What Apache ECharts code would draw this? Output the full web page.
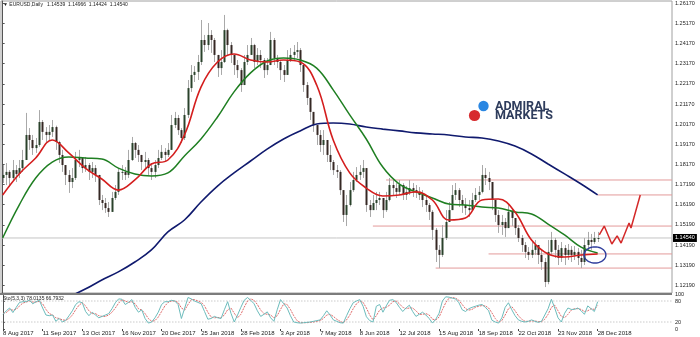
<!DOCTYPE html>
<html><head><meta charset="utf-8">
<script src="https://cdn.jsdelivr.net/npm/echarts@6/dist/echarts.min.js"></script>
<style>html,body{margin:0;padding:0;background:#fff}#c{width:700px;height:337px}</style>
</head><body><div id="c"></div>
<script>
// ---- data (bars = 2 trading days each) ----
const dateTicks = ['8 Aug 2017','11 Sep 2017','13 Oct 2017','16 Nov 2017','20 Dec 2017','25 Jan 2018','28 Feb 2018','3 Apr 2018','7 May 2018','8 Jun 2018','12 Jul 2018','15 Aug 2018','18 Sep 2018','22 Oct 2018','23 Nov 2018','28 Dec 2018'];
const dateTickIndex = [0,12,24,36,48,60,72,84,96,108,120,132,144,156,168,180];
const priceTicks = [1.1219,1.1319,1.1419,1.1519,1.1619,1.1719,1.1817,1.1917,1.2017,1.2117,1.2217,1.2317,1.2417,1.2517,1.2617];
const stochTicks = [0,20,80,100];
const stochLevels = [20,80];
const firstOpen = 1.1751;
const closes = [
1.1766,1.1781,1.1751,1.1790,1.1771,1.1800,1.1840,1.1964,1.1939,1.1899,
1.1914,1.2028,1.1979,1.1964,1.1979,1.2003,1.1929,1.1865,1.1815,1.1766,
1.1731,1.1751,1.1840,1.1850,1.1800,1.1815,1.1781,1.1800,1.1766,1.1642,
1.1627,1.1602,1.1583,1.1652,1.1682,1.1781,1.1781,1.1766,1.1840,1.1924,
1.1890,1.1865,1.1830,1.1840,1.1800,1.1781,1.1815,1.1850,1.1880,1.1865,
1.1890,1.2013,1.2048,1.1988,1.1949,1.2063,1.2196,1.2261,1.2276,1.2325,
1.2434,1.2409,1.2459,1.2434,1.2360,1.2295,1.2325,1.2483,1.2409,1.2360,
1.2310,1.2285,1.2211,1.2325,1.2360,1.2409,1.2325,1.2360,1.2335,1.2285,
1.2310,1.2434,1.2345,1.2325,1.2285,1.2261,1.2335,1.2360,1.2375,1.2384,
1.2310,1.2211,1.2147,1.2078,1.2013,1.1964,1.1914,1.1939,1.1865,1.1830,
1.1790,1.1781,1.1691,1.1568,1.1617,1.1691,1.1741,1.1766,1.1781,1.1800,
1.1617,1.1592,1.1627,1.1642,1.1652,1.1592,1.1642,1.1716,1.1701,1.1682,
1.1716,1.1667,1.1682,1.1701,1.1691,1.1682,1.1667,1.1642,1.1617,1.1583,
1.1494,1.1395,1.1370,1.1454,1.1533,1.1592,1.1667,1.1691,1.1642,1.1617,
1.1602,1.1592,1.1642,1.1667,1.1682,1.1766,1.1751,1.1731,1.1642,1.1568,
1.1518,1.1533,1.1503,1.1583,1.1553,1.1503,1.1454,1.1419,1.1385,1.1370,
1.1395,1.1419,1.1370,1.1335,1.1236,1.1385,1.1444,1.1395,1.1355,1.1404,
1.1370,1.1395,1.1370,1.1385,1.1355,1.1335,1.1419,1.1444,1.1434,1.1454,
1.1454];
const highs = [
1.1815,1.1825,1.1790,1.1840,1.1815,1.1840,1.1890,1.2073,1.1998,1.1964,
1.1949,1.2087,1.2038,1.2003,1.2013,1.2038,1.2010,1.1935,1.1890,1.1815,
1.1790,1.1800,1.1880,1.1890,1.1850,1.1855,1.1825,1.1830,1.1815,1.1766,
1.1667,1.1652,1.1632,1.1682,1.1716,1.1800,1.1815,1.1805,1.1890,1.1954,
1.1929,1.1914,1.1865,1.1880,1.1850,1.1825,1.1840,1.1890,1.1914,1.1899,
1.1924,1.2063,1.2078,1.2063,1.1998,1.2097,1.2236,1.2310,1.2305,1.2360,
1.2533,1.2459,1.2518,1.2483,1.2444,1.2360,1.2384,1.2558,1.2490,1.2424,
1.2360,1.2335,1.2295,1.2360,1.2409,1.2444,1.2415,1.2394,1.2384,1.2345,
1.2345,1.2474,1.2444,1.2360,1.2335,1.2310,1.2384,1.2394,1.2409,1.2424,
1.2394,1.2310,1.2226,1.2150,1.2078,1.2013,1.1988,1.1988,1.1939,1.1914,
1.1840,1.1815,1.1790,1.1691,1.1667,1.1731,1.1781,1.1805,1.1815,1.1840,
1.1800,1.1642,1.1667,1.1682,1.1682,1.1652,1.1682,1.1751,1.1741,1.1726,
1.1741,1.1725,1.1711,1.1741,1.1726,1.1716,1.1706,1.1691,1.1667,1.1627,
1.1592,1.1503,1.1419,1.1518,1.1592,1.1632,1.1716,1.1726,1.1701,1.1667,
1.1652,1.1642,1.1677,1.1701,1.1711,1.1815,1.1800,1.1781,1.1731,1.1642,
1.1592,1.1568,1.1553,1.1617,1.1602,1.1553,1.1518,1.1469,1.1434,1.1409,
1.1434,1.1444,1.1419,1.1395,1.1355,1.1444,1.1484,1.1454,1.1419,1.1434,
1.1419,1.1424,1.1414,1.1414,1.1404,1.1395,1.1454,1.1484,1.1474,1.1484,
1.1484];
const lows = [
1.1726,1.1716,1.1706,1.1741,1.1731,1.1751,1.1781,1.1840,1.1890,1.1865,
1.1875,1.1905,1.1939,1.1929,1.1939,1.1954,1.1890,1.1825,1.1781,1.1716,
1.1677,1.1701,1.1741,1.1805,1.1776,1.1781,1.1741,1.1751,1.1731,1.1617,
1.1592,1.1578,1.1558,1.1583,1.1642,1.1667,1.1741,1.1741,1.1751,1.1835,
1.1850,1.1830,1.1790,1.1800,1.1766,1.1741,1.1751,1.1800,1.1840,1.1830,
1.1855,1.1890,1.1998,1.1964,1.1924,1.1939,1.2048,1.2177,1.2226,1.2236,
1.2310,1.2375,1.2384,1.2370,1.2325,1.2251,1.2261,1.2320,1.2360,1.2320,
1.2261,1.2246,1.2177,1.2211,1.2310,1.2360,1.2295,1.2310,1.2295,1.2246,
1.2261,1.2310,1.2310,1.2295,1.2236,1.2226,1.2261,1.2325,1.2335,1.2345,
1.2276,1.2177,1.2112,1.2038,1.1979,1.1914,1.1880,1.1865,1.1830,1.1790,
1.1766,1.1751,1.1667,1.1533,1.1513,1.1610,1.1682,1.1731,1.1741,1.1751,
1.1583,1.1558,1.1592,1.1592,1.1617,1.1553,1.1583,1.1635,1.1667,1.1652,
1.1667,1.1642,1.1642,1.1667,1.1657,1.1652,1.1642,1.1607,1.1583,1.1543,
1.1444,1.1335,1.1305,1.1360,1.1444,1.1533,1.1592,1.1642,1.1607,1.1578,
1.1568,1.1558,1.1592,1.1632,1.1642,1.1675,1.1716,1.1691,1.1592,1.1533,
1.1479,1.1469,1.1459,1.1503,1.1513,1.1469,1.1434,1.1385,1.1355,1.1345,
1.1355,1.1370,1.1325,1.1296,1.1211,1.1225,1.1370,1.1355,1.1320,1.1335,
1.1320,1.1345,1.1335,1.1345,1.1320,1.1305,1.1320,1.1395,1.1395,1.1424,
1.1434];
const maIdx = [0,5,10,15,20,25,30,35,40,45,50,55,60,65,70,75,80,85,90,95,100,105,110,115,120,125,130,135,140,145,150,155,160,165,170,175,180];
const maRed = [1.1667,1.1771,1.1850,1.1939,1.1875,1.1800,1.1746,1.1691,1.1741,1.1820,1.1840,1.1964,1.2201,1.2325,1.2365,1.2335,1.2325,1.2335,1.2325,1.2211,1.1939,1.1776,1.1701,1.1662,1.1667,1.1682,1.1642,1.1543,1.1553,1.1642,1.1647,1.1583,1.1444,1.1375,1.1360,1.1370,1.1375];
const maGreen = [1.1454,1.1617,1.1751,1.1830,1.1855,1.1850,1.1845,1.1800,1.1771,1.1761,1.1776,1.1860,1.1944,1.2053,1.2177,1.2271,1.2330,1.2345,1.2335,1.2295,1.2187,1.2063,1.1944,1.1805,1.1721,1.1682,1.1652,1.1622,1.1617,1.1607,1.1602,1.1583,1.1573,1.1523,1.1469,1.1409,1.1380];
const navyIdx = [20,25,30,35,40,45,50,55,60,65,70,75,80,85,90,95,100,105,110,115,120,125,130,135,140,145,150,155,160,165,170,175,180];
const maNavy = [1.1162,1.1201,1.1246,1.1286,1.1335,1.1395,1.1484,1.1543,1.1632,1.1711,1.1776,1.1835,1.1894,1.1944,1.1984,1.2018,1.2023,1.2018,1.2003,1.1993,1.1984,1.1974,1.1969,1.1964,1.1954,1.1949,1.1934,1.1909,1.1870,1.1820,1.1771,1.1721,1.1667];
const stochK = [42,52,60,47,62,76,78,78,83,72,78,82,60,40,38,40,22,30,20,25,38,52,70,78,75,50,38,48,40,32,36,40,44,58,75,86,85,70,76,84,62,48,55,30,17,20,32,48,70,78,78,82,80,70,30,60,90,86,80,76,72,50,28,30,36,32,30,55,78,45,20,40,62,82,90,82,72,52,36,42,49,32,22,55,84,72,60,38,20,18,17,18,19,20,22,24,26,38,52,40,26,22,18,17,38,58,75,80,84,65,35,24,20,65,70,48,66,82,84,76,62,50,60,68,50,36,42,48,40,30,17,28,45,80,92,91,88,86,75,55,50,58,62,65,68,70,62,52,25,20,17,32,62,75,55,38,26,22,20,22,26,22,19,22,40,58,85,60,32,20,45,60,56,56,60,52,42,66,58,50,78];
const stochD = [45,47,55,54,56,66,74,77,80,77,77,79,72,56,44,40,32,30,26,25,30,40,55,68,75,66,52,44,44,38,36,36,40,48,60,74,84,80,76,78,72,58,54,44,30,22,24,34,50,66,76,80,80,76,60,54,70,84,84,80,76,66,48,34,32,33,32,40,55,60,45,32,42,62,80,86,82,70,54,44,42,40,32,38,56,72,70,56,38,24,18,18,18,19,20,22,24,30,40,42,36,28,22,18,26,40,58,72,80,76,60,40,26,38,54,60,62,68,78,80,72,62,58,60,60,52,42,42,44,40,28,26,34,55,75,88,90,88,82,70,58,54,56,62,65,67,66,60,46,30,20,24,40,58,64,52,38,28,22,22,23,23,21,21,28,42,62,68,52,36,32,42,54,58,58,56,50,52,58,56,67];
const lastPrice = 1.14540;
const levelStart = [116,180,112,147,131];
const levelPrice = [1.1741,1.1667,1.1513,1.1375,1.1305];
const projIdx = [180.5,182,184.3,185.9,187.1,189.5,190.1,192.9];
const projPrice = [1.1469,1.1513,1.1424,1.1464,1.1429,1.1528,1.1503,1.1667];
const ellipseCenter = [179.2,1.1370];
const headerText = '\u25BC EURUSD,Daily   1.14539  1.14966  1.14424  1.14540';
const stochText = 'Sto(5,3,3) 78.0135 66.7932';

// ---- chart ----
const X0 = -0.5, X1 = 202.5;
const FONT = 'Liberation Sans';
const candleData = closes.map((c,i)=>[i, i ? closes[i-1] : firstOpen, c, lows[i], highs[i]]);
const pairs = (xs, ys) => xs.map((x,k)=>[x, ys[k]]);
const chart = echarts.init(document.getElementById('c'));

const lvlSeries = levelStart.map((s,k)=>({
  type:'line', xAxisIndex:0, yAxisIndex:0, silent:true, symbol:'none', z:2,
  data:[[s, levelPrice[k]],[X1, levelPrice[k]]],
  lineStyle:{color:'#e39a9a', width:1}
}));
const stochLvlSeries = stochLevels.map(v=>({
  type:'line', xAxisIndex:1, yAxisIndex:1, silent:true, symbol:'none',
  data:[[X0,v],[X1,v]], lineStyle:{color:'#b0b0b0', width:1, type:[1,2]}
}));

chart.setOption({
  animation:false,
  backgroundColor:'#fff',
  grid:[
    {left:1, top:1, width:671, height:292, show:true, borderColor:'#a0a0a0', borderWidth:1},
    {left:1, top:294, width:671, height:35}
  ],
  xAxis:[
    {gridIndex:0, type:'value', min:X0, max:X1, axisLine:{show:false}, axisTick:{show:false}, axisLabel:{show:false}, splitLine:{show:false}},
    {gridIndex:1, type:'value', min:X0, max:X1, axisLine:{show:false},
     axisTick:{show:true, length:2, customValues:dateTickIndex, lineStyle:{color:'#444'}},
     axisLabel:{customValues:dateTickIndex, formatter:v=>dateTicks[dateTickIndex.indexOf(Math.round(v))]||'', align:'left', fontSize:6, color:'#222', margin:1, fontFamily:FONT},
     splitLine:{show:false}}
  ],
  yAxis:[
    {gridIndex:0, type:'value', position:'right', min:1.11816, max:1.26270,
     axisLine:{show:true, lineStyle:{color:'#555'}},
     axisTick:{show:true, length:2, customValues:priceTicks, lineStyle:{color:'#555'}},
     axisLabel:{customValues:priceTicks, formatter:v=>v.toFixed(5), fontSize:5.5, color:'#222', margin:3, fontFamily:FONT},
     splitLine:{show:false}},
    {gridIndex:1, type:'value', position:'right', min:0, max:100,
     axisLine:{show:true, lineStyle:{color:'#555'}},
     axisTick:{show:true, length:2, customValues:stochTicks, lineStyle:{color:'#555'}},
     axisLabel:{customValues:stochTicks, formatter:v=>String(v), fontSize:5.5, color:'#222', margin:3, fontFamily:FONT},
     splitLine:{show:false}}
  ],
  series:[
    ...lvlSeries,
    {type:'line', xAxisIndex:0, yAxisIndex:0, silent:true, symbol:'none', z:2,
     data:[[X0,lastPrice],[X1,lastPrice]], lineStyle:{color:'#c4c4c4', width:1},
     endLabel:{show:true, formatter:()=>lastPrice.toFixed(5), backgroundColor:'#000', color:'#fff', fontSize:5.5, padding:[1,2,1,2], distance:1, fontFamily:FONT}},
    {type:'custom', xAxisIndex:0, yAxisIndex:0, z:3, data:candleData,
     encode:{x:0, y:[1,2,3,4]},
     renderItem:(p,api)=>{
       const i=api.value(0), o=api.value(1), c=api.value(2), l=api.value(3), h=api.value(4);
       const pO=api.coord([i,o]), pC=api.coord([i,c]), pL=api.coord([i,l]), pH=api.coord([i,h]);
       const w=api.size([1,0])[0]*0.6;
       const xx=Math.round(pO[0])+0.5;
       const up=c>=o;
       return {type:'group', children:[
         {type:'line', shape:{x1:xx,y1:pH[1],x2:xx,y2:pL[1]}, style:{stroke:'#a9a9a9', lineWidth:1}},
         {type:'rect', shape:{x:xx-w/2, y:Math.min(pO[1],pC[1]), width:w, height:Math.max(1,Math.abs(pO[1]-pC[1]))}, style:{fill: up ? '#2a422b' : '#352824'}}
       ]};
     }},
    {type:'line', xAxisIndex:0, yAxisIndex:0, symbol:'none', smooth:0.4, z:4, data:pairs(navyIdx, maNavy), lineStyle:{color:'#101a6e', width:1.6}},
    {type:'line', xAxisIndex:0, yAxisIndex:0, symbol:'none', smooth:0.4, z:4, data:pairs(maIdx, maGreen), lineStyle:{color:'#1f7f22', width:1.5}},
    {type:'line', xAxisIndex:0, yAxisIndex:0, symbol:'none', smooth:0.4, z:5, data:pairs(maIdx, maRed), lineStyle:{color:'#d41e1e', width:1.6}},
    {type:'line', xAxisIndex:0, yAxisIndex:0, symbol:'none', z:6, data:pairs(projIdx, projPrice), lineStyle:{color:'#d42a2a', width:1.5}},
    {type:'custom', xAxisIndex:0, yAxisIndex:0, z:7, data:[ellipseCenter],
     renderItem:(p,api)=>{
       const c=api.coord([api.value(0),api.value(1)]);
       const rx=api.size([3.3,0])[0], ry=api.size([0,0.0040])[1];
       const pts=[]; for(let k=0;k<48;k++){const t=k/48*Math.PI*2; pts.push([c[0]+rx*Math.cos(t), c[1]+ry*Math.sin(t)]);}
       return {type:'polygon', shape:{points:pts}, style:{fill:'none', stroke:'#2f3d9c', lineWidth:1.4}};
     }},
    ...stochLvlSeries,
    {type:'line', xAxisIndex:1, yAxisIndex:1, symbol:'none', data:stochD.map((v,i)=>[i,v]), lineStyle:{color:'#e06a6a', width:1, type:[2,1]}},
    {type:'line', xAxisIndex:1, yAxisIndex:1, symbol:'none', data:stochK.map((v,i)=>[i,v]), lineStyle:{color:'#6cbcbc', width:1}}
  ],
  graphic:[
    {type:'rect', shape:{x:0, y:293, width:672, height:2}, style:{fill:'#7c7c7c'}, z:100},
    {type:'text', left:3, top:2, style:{text:headerText, fontSize:5, fill:'#222', fontFamily:FONT}, z:100},
    {type:'text', left:3, top:296, style:{text:stochText, fontSize:5, fill:'#222', fontFamily:FONT}, z:100},
    {type:'circle', shape:{cx:483.5, cy:106, r:5.2}, style:{fill:'#2a87e2'}, z:100},
    {type:'circle', shape:{cx:474.5, cy:115.5, r:5.6}, style:{fill:'#d72a2e'}, z:100},
    {type:'text', left:495, top:100, style:{text:'ADMIRAL', fontSize:12.5, fontWeight:'bold', fill:'#2e3c5c', fontFamily:'Roboto'}, z:100},
    {type:'text', left:495, top:109.5, style:{text:'MARKETS', fontSize:12.5, fontWeight:'bold', fill:'#2e3c5c', fontFamily:'Roboto'}, z:100}
  ]
});
</script></body></html>
